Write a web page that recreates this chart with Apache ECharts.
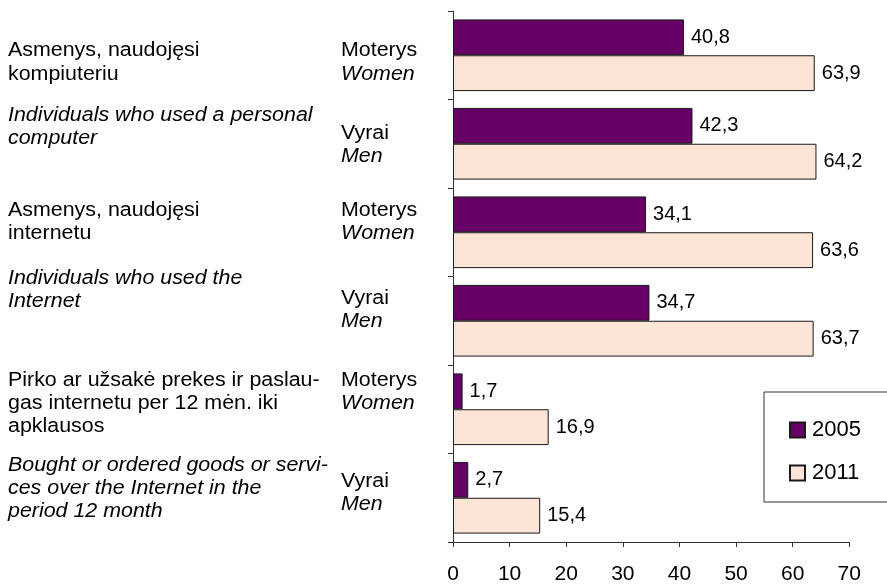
<!DOCTYPE html>
<html>
<head>
<meta charset="utf-8">
<script src="https://cdn.jsdelivr.net/npm/echarts@6/dist/echarts.min.js"></script>
<style>
  html, body { margin: 0; padding: 0; background: #fff; }
  #chart { width: 887px; height: 585px; }
</style>
</head>
<body>
<div id="chart"></div>
<script>
  // duomenys (%), is virsaus i apacia
  var categories = ['Moterys', 'Vyrai', 'Moterys', 'Vyrai', 'Moterys', 'Vyrai'];
  var categoriesEn = ['Women', 'Men', 'Women', 'Men', 'Women', 'Men'];
  var groupLt = [
    'Asmenys, naudojęsi\nkompiuteriu',
    'Asmenys, naudojęsi\ninternetu',
    'Pirko ar užsakė prekes ir paslau-\ngas internetu per 12 mėn. iki\napklausos'
  ];
  var groupEn = [
    'Individuals who used a personal\ncomputer',
    'Individuals who used the\nInternet',
    'Bought or ordered goods or servi-\nces over the Internet in the\nperiod 12 month'
  ];
  var seriesNames = ['2005', '2011'];
  var values2005 = [40.8, 42.3, 34.1, 34.7, 1.7, 2.7];
  var values2011 = [63.9, 64.2, 63.6, 63.7, 16.9, 15.4];
  var xTicks = [0, 10, 20, 30, 40, 50, 60, 70];

  var FONT = 'Liberation Sans, Arial, sans-serif';
  var FS = 20;
  var LH = 23.3;

  // teksto blokai kaireje: x ir pirmos eilutes baseline
  function txt(str, x, baseline, italic) {
    return {
      type: 'text',
      x: x,
      y: baseline - (LH / 2 + 0.35 * FS),
      scaleX: 1.07,
      style: {
        text: str,
        font: (italic ? 'italic ' : '') + FS + 'px ' + FONT,
        fill: '#000',
        lineHeight: LH,
        align: 'left',
        verticalAlign: 'top'
      },
      silent: true
    };
  }

  var ltBase = [57.7, 217, 387];
  var enBase = [122, 285, 472];
  var gBase = [57.7, 140, 217, 305, 387, 488];

  var graphics = [];
  for (var i = 0; i < 3; i++) {
    graphics.push(txt(groupLt[i], 8, ltBase[i], false));
    graphics.push(txt(groupEn[i], 8, enBase[i], true));
  }
  for (var j = 0; j < categories.length; j++) {
    graphics.push(txt(categories[j], 341, gBase[j], false));
    graphics.push(txt(categoriesEn[j], 341, gBase[j] + LH, true));
  }

  var chart = echarts.init(document.getElementById('chart'));

  function lbl(p) {
    return String(p.value).replace('.', ',');
  }

  chart.setOption({
    animation: false,
    textStyle: { fontFamily: FONT },
    grid: { left: 453, right: 37.7, top: 11, bottom: 39.3, containLabel: false },
    legend: {
      orient: 'vertical',
      left: 764,
      top: 392,
      data: seriesNames,
      icon: 'rect',
      itemWidth: 15,
      itemHeight: 15,
      itemGap: 21,
      padding: [27, 60, 18, 25],
      borderColor: '#333',
      borderWidth: 1,
      backgroundColor: '#fff',
      textStyle: { fontSize: 22, color: '#000', fontFamily: FONT, padding: [0, 0, 0, 2] }
    },
    xAxis: {
      type: 'value',
      min: 0,
      max: 70,
      interval: 10,
      splitLine: { show: false },
      axisLine: { show: true, lineStyle: { color: '#333', width: 1 } },
      axisTick: { show: true, length: 5, lineStyle: { color: '#333' } },
      axisLabel: {
        margin: 22,
        fontSize: 21,
        color: '#000',
        formatter: function (v) { return xTicks.indexOf(v) >= 0 ? String(v) : ''; }
      }
    },
    yAxis: {
      type: 'category',
      inverse: true,
      data: categories,
      axisLine: { show: true, lineStyle: { color: '#333', width: 1 } },
      axisTick: { show: true, length: 5, lineStyle: { color: '#333' } },
      axisLabel: { show: false }
    },
    series: [
      {
        name: seriesNames[0],
        type: 'bar',
        data: values2005,
        barGap: '0%',
        barCategoryGap: '19%',
        itemStyle: { color: '#660066', borderColor: '#1a1a1a', borderWidth: 1 },
        label: { show: true, position: 'right', distance: 7, fontSize: 20, color: '#000', formatter: lbl }
      },
      {
        name: seriesNames[1],
        type: 'bar',
        data: values2011,
        barGap: '0%',
        barCategoryGap: '19%',
        itemStyle: { color: '#FCE4D6', borderColor: '#1a1a1a', borderWidth: 1 },
        label: { show: true, position: 'right', distance: 7, fontSize: 20, color: '#000', formatter: lbl }
      }
    ],
    graphic: graphics
  });
</script>
</body>
</html>
